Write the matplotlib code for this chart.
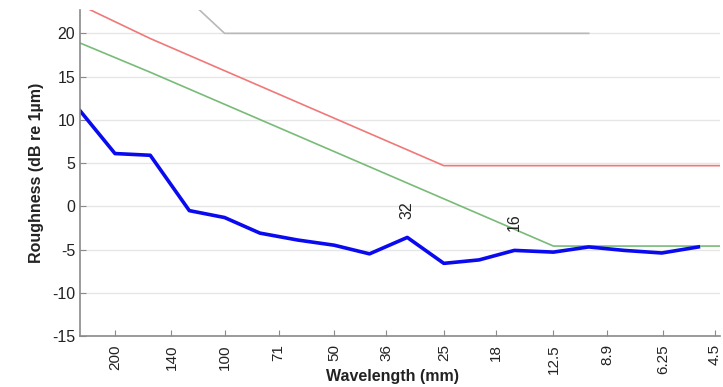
import matplotlib
matplotlib.use("Agg")
import matplotlib.pyplot as plt
from matplotlib.ticker import FixedLocator, NullLocator

plt.rcParams['font.family'] = ['Liberation Sans', 'DejaVu Sans']
plt.rcParams['axes.unicode_minus'] = False

# Measured roughness (third-octave bands)
wl_meas = [250, 200, 160, 125, 100, 80, 63, 50, 40, 31.5, 25, 20, 16, 12.5, 10, 8, 6.3, 5]
rough_meas = [11.1, 6.1, 5.9, -0.5, -1.3, -3.1, -3.9, -4.5, -5.5, -3.6, -6.6, -6.2, -5.1, -5.3, -4.7, -5.1, -5.4, -4.7]

# Limit curves
wl_red = [250, 160, 25, 4.3]
rough_red = [23.3, 19.4, 4.7, 4.7]

wl_green = [250, 160, 12.5, 4.3]
rough_green = [18.9, 15.5, -4.6, -4.6]

wl_gray = [160, 125, 100, 10]
rough_gray = [27.5, 23.8, 20.0, 20.0]

tick_vals = [200, 140, 100, 71, 50, 36, 25, 18, 12.5, 8.9, 6.25, 4.5]
tick_labels = ['200', '140', '100', '71', '50', '36', '25', '18', '12.5', '8.9', '6.25', '4.5']

y_ticks = [-15, -10, -5, 0, 5, 10, 15, 20]

annot_text = ['32', '16']
annot_x = [31.5, 16]
annot_y = [-0.4, -1.8]

fig = plt.figure(figsize=(7.23, 3.87), dpi=100)
ax = fig.add_axes([80/723, 51/387, 640/723, 326/387])

ax.plot(wl_gray, rough_gray, color='#b8b8b8', lw=1.2)
ax.plot(wl_red, rough_red, color='#f07878', lw=1.2)
ax.plot(wl_green, rough_green, color='#78bb78', lw=1.2)
ax.plot(wl_meas, rough_meas, color='#0a0af0', lw=2.6)

ax.set_xscale('log')
ax.set_xlim(249.5, 4.36)
ax.set_ylim(-15, 22.7)
ax.xaxis.set_major_locator(FixedLocator(tick_vals))
ax.xaxis.set_minor_locator(NullLocator())
ax.set_xticklabels(tick_labels, rotation=90)
ax.set_yticks(y_ticks)
ax.yaxis.grid(True, color='#e6e6e6', lw=1.0)
ax.set_axisbelow(True)

for t, x, y in zip(annot_text, annot_x, annot_y):
    ax.text(x, y, t, rotation=90, ha='center', va='center', fontsize=11.5, color='#222222')

for s in ['top', 'right']:
    ax.spines[s].set_visible(False)
for s in ['left', 'bottom']:
    ax.spines[s].set_color('#8a8a8a')
    ax.spines[s].set_linewidth(1.2)

ax.tick_params(axis='both', direction='in', length=4, color='#8a8a8a', labelsize=11.5, labelcolor='#222222')
ax.tick_params(axis='x', pad=6, labelsize=11)

ax.set_xlabel('Wavelength (mm)', fontsize=11.5, fontweight='bold', color='#222222', va='center')
ax.xaxis.set_label_coords(0.489, -0.125)
ax.set_ylabel('Roughness (dB re 1µm)', fontsize=11.5, fontweight='bold', labelpad=6, color='#222222')

fig.savefig('out.png', dpi=100)
